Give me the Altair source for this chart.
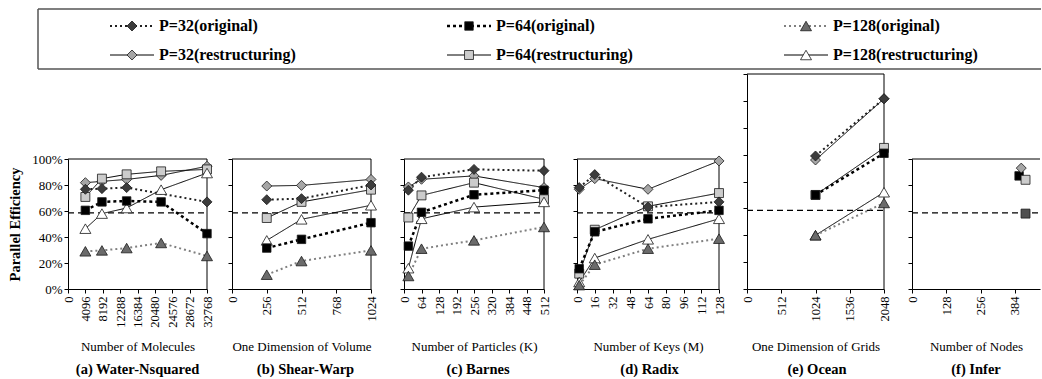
import altair as alt
import pandas as pd

FONT = "Liberation Serif"

series_names = ["P=32(original)", "P=64(original)", "P=128(original)",
                "P=32(restructuring)", "P=64(restructuring)", "P=128(restructuring)"]

# ---------------- data (parallel efficiency, %) ----------------
water_x = [4096, 8000, 13824, 21952, 32768]
water_p32_orig = [76.7, 77.2, 78.0, None, 67.0]
water_p64_orig = [60.5, 67.0, 67.7, 67.0, 42.6]
water_p128_orig = [29.0, 29.7, 31.5, 35.4, 25.4]
water_p32_rest = [81.8, 82.8, 84.3, 87.4, 94.4]
water_p64_rest = [70.8, 84.9, 88.2, 90.5, 92.0]
water_p128_rest = [46.4, 58.0, 62.3, 76.4, 89.2]
water_ticks = [0, 4096, 8192, 12288, 16384, 20480, 24576, 28672, 32768]

shear_x = [256, 512, 1024]
shear_p32_orig = [68.7, 69.5, 80.0]
shear_p64_orig = [31.5, 38.2, 51.0]
shear_p128_orig = [11.0, 21.5, 29.7]
shear_p32_rest = [79.2, 79.7, 84.3]
shear_p64_rest = [54.6, 67.0, 76.4]
shear_p128_rest = [37.4, 53.6, 64.4]
shear_ticks = [0, 256, 512, 768, 1024]

barnes_x = [16, 64, 256, 512]
barnes_p32_orig = [76.0, 86.0, 92.0, 91.0]
barnes_p64_orig = [33.0, 59.0, 72.5, 76.0]
barnes_p128_orig = [10.0, 31.0, 37.4, 47.7]
barnes_p32_rest = [78.5, 84.4, 87.0, 78.0]
barnes_p64_rest = [55.0, 72.0, 81.8, 69.0]
barnes_p128_rest = [16.0, 54.0, 63.0, 67.0]
barnes_ticks = [0, 64, 128, 192, 256, 320, 384, 448, 512]

radix_x = [2, 16, 64, 128]
radix_p32_orig = [78.0, 88.0, 63.0, 67.0]
radix_p64_orig = [15.6, 44.0, 54.0, 60.5]
radix_p128_orig = [3.0, 18.7, 31.0, 38.7]
radix_p32_rest = [76.7, 84.9, 76.7, 98.5]
radix_p64_rest = [11.8, 45.6, 63.6, 73.8]
radix_p128_rest = [5.4, 23.8, 38.2, 54.0]
radix_ticks = [0, 16, 32, 48, 64, 80, 96, 112, 128]

ocean_x = [1024, 2048]
ocean_p32_orig = [99.0, 141.6]
ocean_p64_orig = [70.0, 101.0]
ocean_p128_orig = [40.0, 64.0]
ocean_p32_rest = [96.0, 141.6]
ocean_p64_rest = [70.0, 105.0]
ocean_p128_rest = [40.0, 72.0]
ocean_ticks = [0, 512, 1024, 1536, 2048]

infer_series = ["P=64(original)", "P=32(restructuring)", "P=64(restructuring)"]
infer_x = [400, 408, 424]
infer_y = [87.0, 93.0, 84.0]
infer_extra_x = [424]
infer_extra_y = [58.0]
infer_ticks = [0, 128, 256, 384]

ref_efficiency = 58.5

# ---------------- styles ----------------
line_colors = ["#202020", "#000000", "#808080", "#000000", "#000000", "#000000"]
line_dashes = [[2, 3], [3, 3], [2, 3], [1, 0], [1, 0], [1, 0]]
line_widths = [2, 2.5, 2, 1, 1, 1]
marker_shapes = ["diamond", "square", "triangle-up", "diamond", "square", "triangle-up"]
marker_fills = ["#3c3c3c", "#000000", "#6b6b6b", "#a6a6a6", "#cccccc", "#ffffff"]
marker_sizes = [100, 72, 121, 100, 80, 121]

PLOT_H = 215


def enc_color():
    return alt.Color("series:N", scale=alt.Scale(domain=series_names, range=line_colors), legend=None)


def enc_dash():
    return alt.StrokeDash("series:N", scale=alt.Scale(domain=series_names, range=line_dashes), legend=None)


def enc_width():
    return alt.StrokeWidth("series:N", scale=alt.Scale(type="ordinal", domain=series_names, range=line_widths),
                           legend=None)


def enc_shape():
    return alt.Shape("series:N", scale=alt.Scale(domain=series_names, range=marker_shapes), legend=None)


def enc_fill():
    return alt.Fill("series:N", scale=alt.Scale(domain=series_names, range=marker_fills), legend=None)


def enc_size():
    return alt.Size("series:N", scale=alt.Scale(type="ordinal", domain=series_names, range=marker_sizes),
                    legend=None)


def long_df(xs, lists):
    rows = []
    # restructuring drawn first, originals on top
    order = [3, 4, 5, 0, 1, 2]
    for i in order:
        for x, y in zip(xs, lists[i]):
            if y is None:
                continue
            rows.append({"x": x, "y": y / 100.0, "series": series_names[i]})
    return pd.DataFrame(rows)


def make_panel(df, ticks, frame_w, view_w, x_title, sub_title, ocean=False, first=False,
               right_frame=True, dmax=None, extra_df=None, draw_lines=True):
    if dmax is None:
        dmax = ticks[-1]
    top = 1.6 if ocean else 1.0
    yrange = [PLOT_H, 0] if ocean else [PLOT_H, PLOT_H - 130]
    yvals = [i / 5 for i in range(9)] if ocean else [i / 5 for i in range(6)]
    xsc = alt.Scale(domain=[0, dmax], range=[0, frame_w], nice=False, zero=False)
    ysc = alt.Scale(domain=[0, top], range=yrange, nice=False, zero=False)
    xax = alt.Axis(values=ticks, format="d", labelAngle=270, title=x_title, titleY=61,
                   titleBaseline="alphabetic", labelOverlap=False, labelFlush=False,
                   grid=False, tickSize=4, labelPadding=3, labelFontSize=12.5,
                   titleFontSize=13, titleFontWeight="normal", labelFont=FONT, titleFont=FONT)
    ykw = dict(values=yvals, format=".0%", grid=False, tickSize=4, labels=first,
               labelFont=FONT, titleFont=FONT)
    if first:
        ykw.update(title="Parallel Efficiency", titleFontWeight="bold", titleFontSize=14.5,
                   labelFontSize=13, labelPadding=2, titlePadding=9)
    else:
        ykw.update(title="")
    yax = alt.Axis(**ykw)
    X = alt.X("x:Q", scale=xsc, axis=xax)
    Y = alt.Y("y:Q", scale=ysc, axis=yax)

    frame_rows = [{"x": 0, "x2": dmax, "y": top, "y2": top}]
    if right_frame:
        frame_rows.append({"x": dmax, "x2": dmax, "y": 0, "y2": top})
    frame_df = pd.DataFrame(frame_rows)
    ref_df = pd.DataFrame([{"x": 0, "x2": dmax, "y": ref_efficiency / 100.0, "y2": ref_efficiency / 100.0}])

    layers = [
        alt.Chart(frame_df).mark_rule(color="#000000", strokeWidth=1).encode(
            x=X, x2="x2:Q", y=Y, y2="y2:Q"),
        alt.Chart(ref_df).mark_rule(color="#000000", strokeWidth=1.2, strokeDash=[6, 4]).encode(
            x=X, x2="x2:Q", y=Y, y2="y2:Q"),
    ]
    if draw_lines:
        layers.append(alt.Chart(df).mark_line().encode(
            x=X, y=Y, color=enc_color(), strokeDash=enc_dash(), strokeWidth=enc_width()))
    layers.append(alt.Chart(df).mark_point(filled=True, stroke="#1a1a1a", strokeWidth=0.8, opacity=1).encode(
        x=X, y=Y, shape=enc_shape(), fill=enc_fill(), size=enc_size()))
    if extra_df is not None:
        layers.append(alt.Chart(extra_df).mark_point(filled=True, shape="square", size=80, fill="#505050",
                                                     stroke="#1a1a1a", strokeWidth=0.8, opacity=1).encode(x=X, y=Y))
    return alt.layer(*layers).properties(
        width=view_w, height=PLOT_H,
        title=alt.TitleParams(text=sub_title, orient="bottom", anchor="middle", frame="group",
                              fontSize=14.5, fontWeight="bold", font=FONT, offset=10, color="#000000"))


water_df = long_df(water_x, [water_p32_orig, water_p64_orig, water_p128_orig,
                             water_p32_rest, water_p64_rest, water_p128_rest])
shear_df = long_df(shear_x, [shear_p32_orig, shear_p64_orig, shear_p128_orig,
                             shear_p32_rest, shear_p64_rest, shear_p128_rest])
barnes_df = long_df(barnes_x, [barnes_p32_orig, barnes_p64_orig, barnes_p128_orig,
                               barnes_p32_rest, barnes_p64_rest, barnes_p128_rest])
radix_df = long_df(radix_x, [radix_p32_orig, radix_p64_orig, radix_p128_orig,
                             radix_p32_rest, radix_p64_rest, radix_p128_rest])
ocean_df = long_df(ocean_x, [ocean_p32_orig, ocean_p64_orig, ocean_p128_orig,
                             ocean_p32_rest, ocean_p64_rest, ocean_p128_rest])
infer_df = pd.DataFrame({"x": infer_x, "y": [v / 100.0 for v in infer_y], "series": infer_series})
infer_extra_df = pd.DataFrame({"x": infer_extra_x, "y": [v / 100.0 for v in infer_extra_y]})

pa = make_panel(water_df, water_ticks, 139, 139, "Number of Molecules", "(a) Water-Nsquared", first=True)
pb = make_panel(shear_df, shear_ticks, 139, 147, "One Dimension of Volume", "(b) Shear-Warp")
pc = make_panel(barnes_df, barnes_ticks, 140, 148, "Number of Particles (K)", "(c) Barnes")
pd_ = make_panel(radix_df, radix_ticks, 142, 145, "Number of Keys (M)", "(d) Radix")
pe = make_panel(ocean_df, ocean_ticks, 137, 140, "One Dimension of Grids", "(e) Ocean", ocean=True)
pf = make_panel(infer_df, infer_ticks, 128, 128, "Number of Nodes", "(f) Infer", right_frame=False,
                dmax=478, extra_df=infer_extra_df, draw_lines=False)

panels = alt.hconcat(pa, pb, pc, pd_, pe, pf, spacing=25, bounds="flush")

# ---------------- legend ----------------
legend_df = pd.DataFrame({
    "series": series_names,
    "col": [i % 3 for i in range(len(series_names))],
    "row": [i // 3 for i in range(len(series_names))],
})
LX = alt.X("col:Q", scale=alt.Scale(domain=[0, 1], range=[0, 337], nice=False, zero=False), axis=None)
LY = alt.Y("row:Q", scale=alt.Scale(domain=[0, 1], range=[17, 46], nice=False, zero=False), axis=None)
box_df = pd.DataFrame({"k": [0]})
legend = alt.layer(
    alt.Chart(box_df).mark_rule(color="#555555", strokeWidth=1.5).encode(
        x=alt.value(-30), x2=alt.value(973), y=alt.value(0)),
    alt.Chart(box_df).mark_rule(color="#555555", strokeWidth=1.5).encode(
        x=alt.value(-30), x2=alt.value(973), y=alt.value(60)),
    alt.Chart(box_df).mark_rule(color="#555555", strokeWidth=1.5).encode(
        x=alt.value(-30), y=alt.value(0), y2=alt.value(60)),
    alt.Chart(legend_df).mark_rule(xOffset=42, x2Offset=86).encode(
        x=LX, x2="col:Q", y=LY, color=enc_color(), strokeDash=enc_dash(), strokeWidth=enc_width()),
    alt.Chart(legend_df).mark_point(filled=True, stroke="#1a1a1a", strokeWidth=0.8, opacity=1, xOffset=64).encode(
        x=LX, y=LY, shape=enc_shape(), fill=enc_fill(), size=enc_size()),
    alt.Chart(legend_df).mark_text(xOffset=91, align="left", baseline="middle", font=FONT, fontSize=16,
                                   fontWeight="bold", color="#000000").encode(
        x=LX, y=LY, text="series:N"),
).properties(width=973, height=60)

chart = alt.vconcat(legend, panels, spacing=5, bounds="flush").properties(
    padding={"left": 7, "top": 8, "right": 0, "bottom": 0}
).configure_view(stroke=None).configure_axis(
    domainColor="#000000", tickColor="#000000", labelColor="#000000", titleColor="#000000",
    labelFont=FONT, titleFont=FONT, domainWidth=1
).configure_title(font=FONT).configure_text(font=FONT)

chart.save("out.html", embed_options={"renderer": "svg", "actions": False})
